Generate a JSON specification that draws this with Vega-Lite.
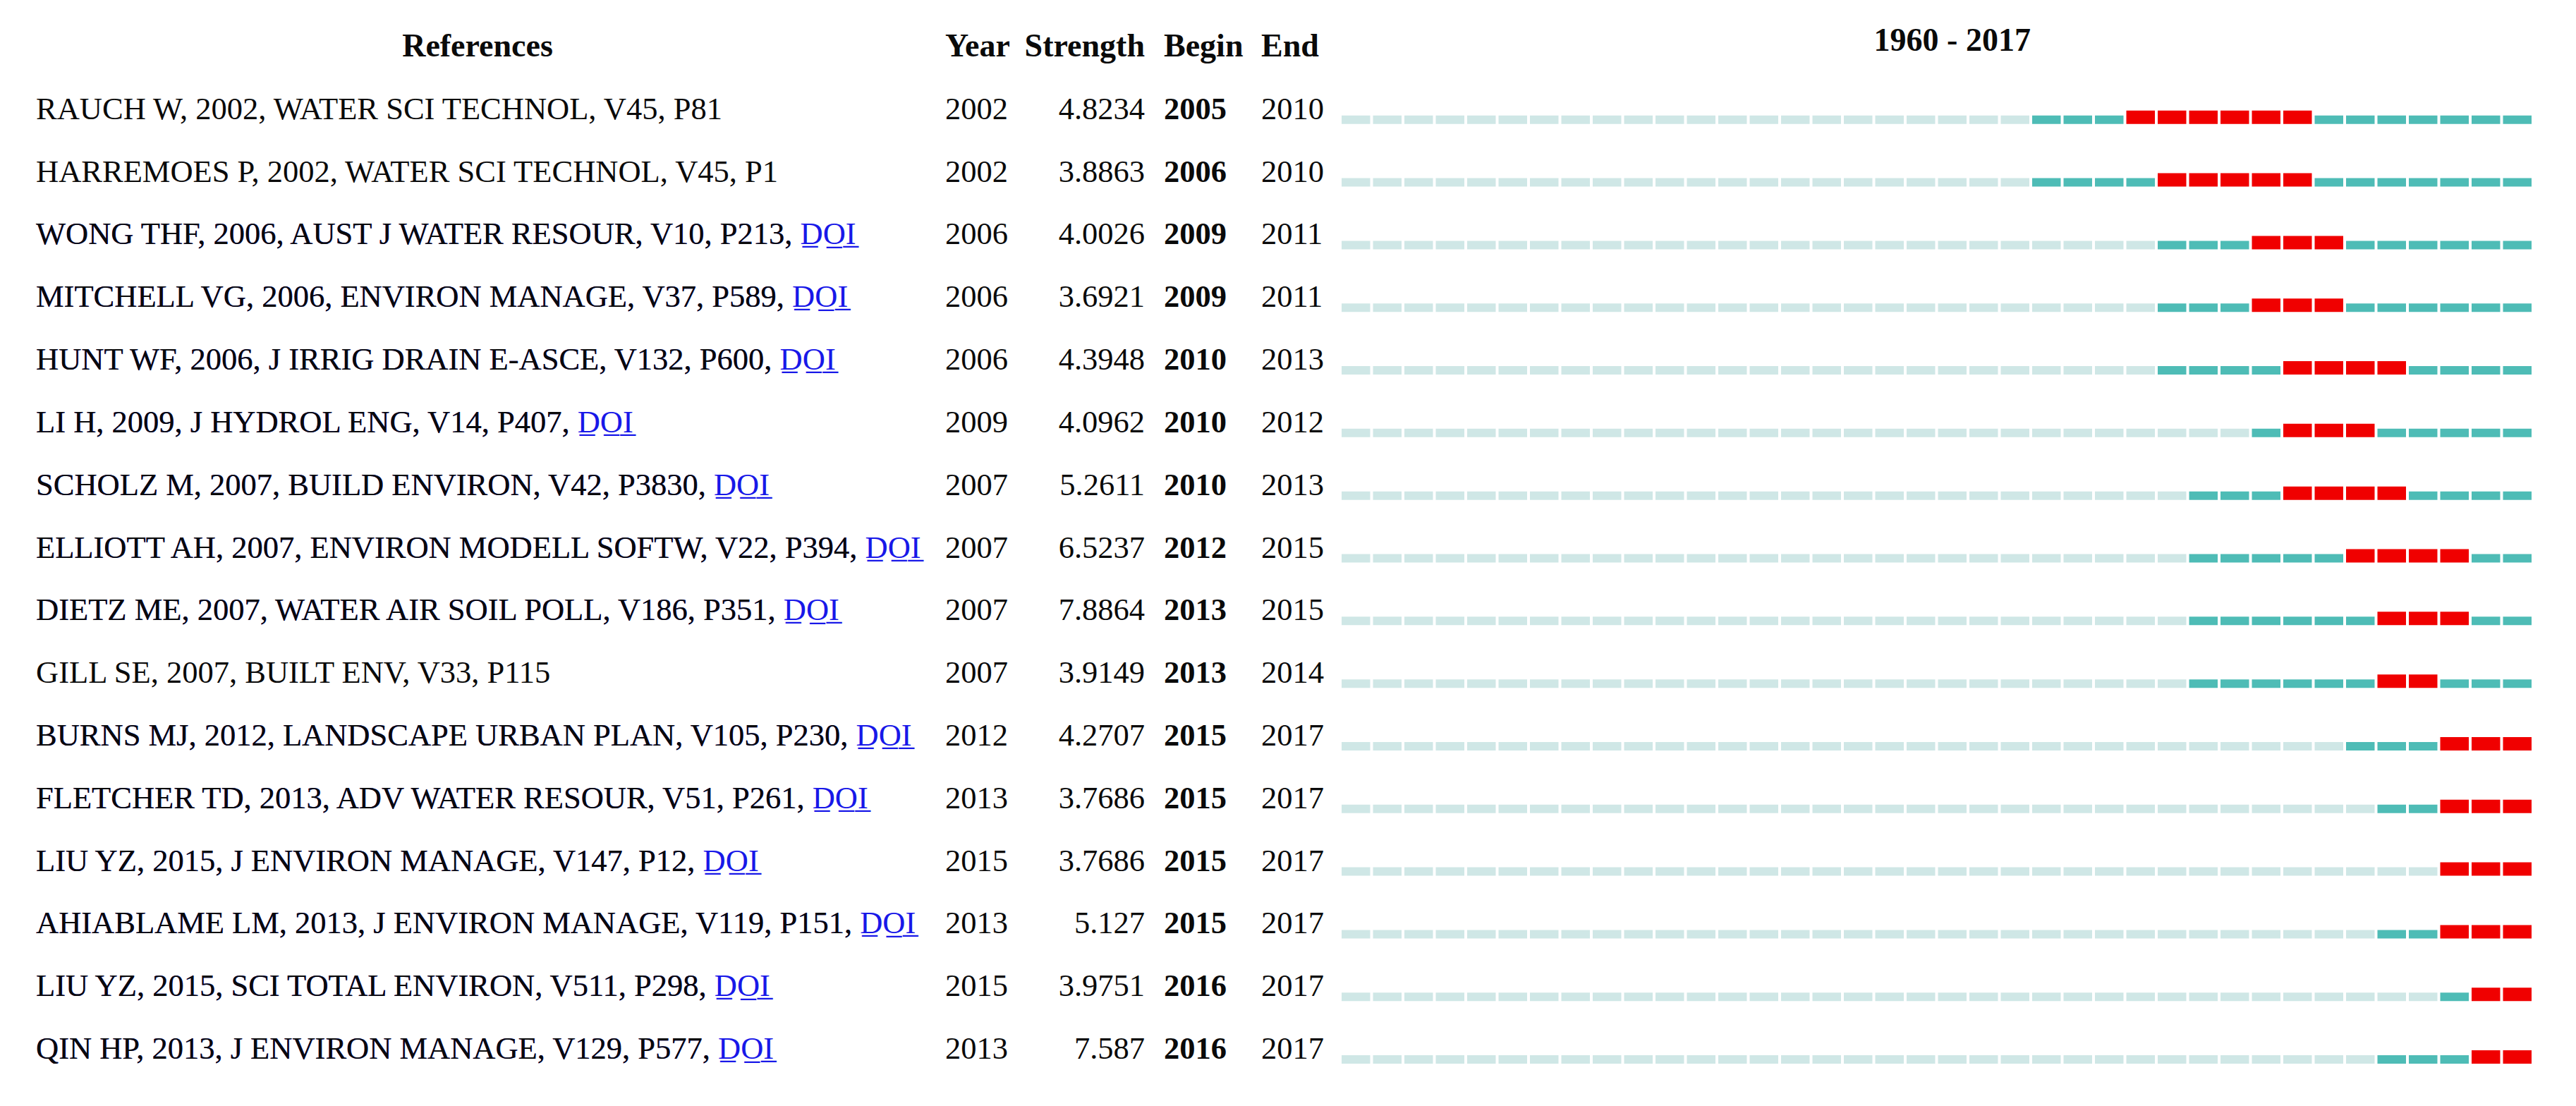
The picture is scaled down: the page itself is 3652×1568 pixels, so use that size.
{
"$schema": "https://vega.github.io/schema/vega-lite/v6.json",
"background": "white",
"padding": {"left": 0, "top": 22, "right": 63, "bottom": 36},
"spacing": 0,
"bounds": "flush",
"config": {"view": {"stroke": null}, "text": {"font": "Liberation Serif", "fontSize": 44.5, "baseline": "alphabetic", "color": "#0a0a0a"}},
"datasets": {
"refs": [
{"r":1,"pre":"RAUCH W, 2002, WATER SCI TECHNOL, V45, P81","full":null,"year":"2002","str":"4.8234","b":"2005","e":"2010"},
{"r":2,"pre":"HARREMOES P, 2002, WATER SCI TECHNOL, V45, P1","full":null,"year":"2002","str":"3.8863","b":"2006","e":"2010"},
{"r":3,"pre":"WONG THF, 2006, AUST J WATER RESOUR, V10, P213, ","full":"WONG THF, 2006, AUST J WATER RESOUR, V10, P213, D\u0332O\u0332I\u0332","year":"2006","str":"4.0026","b":"2009","e":"2011"},
{"r":4,"pre":"MITCHELL VG, 2006, ENVIRON MANAGE, V37, P589, ","full":"MITCHELL VG, 2006, ENVIRON MANAGE, V37, P589, D\u0332O\u0332I\u0332","year":"2006","str":"3.6921","b":"2009","e":"2011"},
{"r":5,"pre":"HUNT WF, 2006, J IRRIG DRAIN E-ASCE, V132, P600, ","full":"HUNT WF, 2006, J IRRIG DRAIN E-ASCE, V132, P600, D\u0332O\u0332I\u0332","year":"2006","str":"4.3948","b":"2010","e":"2013"},
{"r":6,"pre":"LI H, 2009, J HYDROL ENG, V14, P407, ","full":"LI H, 2009, J HYDROL ENG, V14, P407, D\u0332O\u0332I\u0332","year":"2009","str":"4.0962","b":"2010","e":"2012"},
{"r":7,"pre":"SCHOLZ M, 2007, BUILD ENVIRON, V42, P3830, ","full":"SCHOLZ M, 2007, BUILD ENVIRON, V42, P3830, D\u0332O\u0332I\u0332","year":"2007","str":"5.2611","b":"2010","e":"2013"},
{"r":8,"pre":"ELLIOTT AH, 2007, ENVIRON MODELL SOFTW, V22, P394, ","full":"ELLIOTT AH, 2007, ENVIRON MODELL SOFTW, V22, P394, D\u0332O\u0332I\u0332","year":"2007","str":"6.5237","b":"2012","e":"2015"},
{"r":9,"pre":"DIETZ ME, 2007, WATER AIR SOIL POLL, V186, P351, ","full":"DIETZ ME, 2007, WATER AIR SOIL POLL, V186, P351, D\u0332O\u0332I\u0332","year":"2007","str":"7.8864","b":"2013","e":"2015"},
{"r":10,"pre":"GILL SE, 2007, BUILT ENV, V33, P115","full":null,"year":"2007","str":"3.9149","b":"2013","e":"2014"},
{"r":11,"pre":"BURNS MJ, 2012, LANDSCAPE URBAN PLAN, V105, P230, ","full":"BURNS MJ, 2012, LANDSCAPE URBAN PLAN, V105, P230, D\u0332O\u0332I\u0332","year":"2012","str":"4.2707","b":"2015","e":"2017"},
{"r":12,"pre":"FLETCHER TD, 2013, ADV WATER RESOUR, V51, P261, ","full":"FLETCHER TD, 2013, ADV WATER RESOUR, V51, P261, D\u0332O\u0332I\u0332","year":"2013","str":"3.7686","b":"2015","e":"2017"},
{"r":13,"pre":"LIU YZ, 2015, J ENVIRON MANAGE, V147, P12, ","full":"LIU YZ, 2015, J ENVIRON MANAGE, V147, P12, D\u0332O\u0332I\u0332","year":"2015","str":"3.7686","b":"2015","e":"2017"},
{"r":14,"pre":"AHIABLAME LM, 2013, J ENVIRON MANAGE, V119, P151, ","full":"AHIABLAME LM, 2013, J ENVIRON MANAGE, V119, P151, D\u0332O\u0332I\u0332","year":"2013","str":"5.127","b":"2015","e":"2017"},
{"r":15,"pre":"LIU YZ, 2015, SCI TOTAL ENVIRON, V511, P298, ","full":"LIU YZ, 2015, SCI TOTAL ENVIRON, V511, P298, D\u0332O\u0332I\u0332","year":"2015","str":"3.9751","b":"2016","e":"2017"},
{"r":16,"pre":"QIN HP, 2013, J ENVIRON MANAGE, V129, P577, ","full":"QIN HP, 2013, J ENVIRON MANAGE, V129, P577, D\u0332O\u0332I\u0332","year":"2013","str":"7.587","b":"2016","e":"2017"}
],
"seg": [
{"r":1,"y":1980,"s":"L"},{"r":1,"y":1981,"s":"L"},{"r":1,"y":1982,"s":"L"},{"r":1,"y":1983,"s":"L"},{"r":1,"y":1984,"s":"L"},{"r":1,"y":1985,"s":"L"},{"r":1,"y":1986,"s":"L"},{"r":1,"y":1987,"s":"L"},{"r":1,"y":1988,"s":"L"},{"r":1,"y":1989,"s":"L"},{"r":1,"y":1990,"s":"L"},{"r":1,"y":1991,"s":"L"},{"r":1,"y":1992,"s":"L"},{"r":1,"y":1993,"s":"L"},{"r":1,"y":1994,"s":"L"},{"r":1,"y":1995,"s":"L"},{"r":1,"y":1996,"s":"L"},{"r":1,"y":1997,"s":"L"},{"r":1,"y":1998,"s":"L"},{"r":1,"y":1999,"s":"L"},{"r":1,"y":2000,"s":"L"},{"r":1,"y":2001,"s":"L"},{"r":1,"y":2002,"s":"T"},{"r":1,"y":2003,"s":"T"},{"r":1,"y":2004,"s":"T"},{"r":1,"y":2005,"s":"R"},{"r":1,"y":2006,"s":"R"},{"r":1,"y":2007,"s":"R"},{"r":1,"y":2008,"s":"R"},{"r":1,"y":2009,"s":"R"},{"r":1,"y":2010,"s":"R"},{"r":1,"y":2011,"s":"T"},{"r":1,"y":2012,"s":"T"},{"r":1,"y":2013,"s":"T"},{"r":1,"y":2014,"s":"T"},{"r":1,"y":2015,"s":"T"},{"r":1,"y":2016,"s":"T"},{"r":1,"y":2017,"s":"T"},
{"r":2,"y":1980,"s":"L"},{"r":2,"y":1981,"s":"L"},{"r":2,"y":1982,"s":"L"},{"r":2,"y":1983,"s":"L"},{"r":2,"y":1984,"s":"L"},{"r":2,"y":1985,"s":"L"},{"r":2,"y":1986,"s":"L"},{"r":2,"y":1987,"s":"L"},{"r":2,"y":1988,"s":"L"},{"r":2,"y":1989,"s":"L"},{"r":2,"y":1990,"s":"L"},{"r":2,"y":1991,"s":"L"},{"r":2,"y":1992,"s":"L"},{"r":2,"y":1993,"s":"L"},{"r":2,"y":1994,"s":"L"},{"r":2,"y":1995,"s":"L"},{"r":2,"y":1996,"s":"L"},{"r":2,"y":1997,"s":"L"},{"r":2,"y":1998,"s":"L"},{"r":2,"y":1999,"s":"L"},{"r":2,"y":2000,"s":"L"},{"r":2,"y":2001,"s":"L"},{"r":2,"y":2002,"s":"T"},{"r":2,"y":2003,"s":"T"},{"r":2,"y":2004,"s":"T"},{"r":2,"y":2005,"s":"T"},{"r":2,"y":2006,"s":"R"},{"r":2,"y":2007,"s":"R"},{"r":2,"y":2008,"s":"R"},{"r":2,"y":2009,"s":"R"},{"r":2,"y":2010,"s":"R"},{"r":2,"y":2011,"s":"T"},{"r":2,"y":2012,"s":"T"},{"r":2,"y":2013,"s":"T"},{"r":2,"y":2014,"s":"T"},{"r":2,"y":2015,"s":"T"},{"r":2,"y":2016,"s":"T"},{"r":2,"y":2017,"s":"T"},
{"r":3,"y":1980,"s":"L"},{"r":3,"y":1981,"s":"L"},{"r":3,"y":1982,"s":"L"},{"r":3,"y":1983,"s":"L"},{"r":3,"y":1984,"s":"L"},{"r":3,"y":1985,"s":"L"},{"r":3,"y":1986,"s":"L"},{"r":3,"y":1987,"s":"L"},{"r":3,"y":1988,"s":"L"},{"r":3,"y":1989,"s":"L"},{"r":3,"y":1990,"s":"L"},{"r":3,"y":1991,"s":"L"},{"r":3,"y":1992,"s":"L"},{"r":3,"y":1993,"s":"L"},{"r":3,"y":1994,"s":"L"},{"r":3,"y":1995,"s":"L"},{"r":3,"y":1996,"s":"L"},{"r":3,"y":1997,"s":"L"},{"r":3,"y":1998,"s":"L"},{"r":3,"y":1999,"s":"L"},{"r":3,"y":2000,"s":"L"},{"r":3,"y":2001,"s":"L"},{"r":3,"y":2002,"s":"L"},{"r":3,"y":2003,"s":"L"},{"r":3,"y":2004,"s":"L"},{"r":3,"y":2005,"s":"L"},{"r":3,"y":2006,"s":"T"},{"r":3,"y":2007,"s":"T"},{"r":3,"y":2008,"s":"T"},{"r":3,"y":2009,"s":"R"},{"r":3,"y":2010,"s":"R"},{"r":3,"y":2011,"s":"R"},{"r":3,"y":2012,"s":"T"},{"r":3,"y":2013,"s":"T"},{"r":3,"y":2014,"s":"T"},{"r":3,"y":2015,"s":"T"},{"r":3,"y":2016,"s":"T"},{"r":3,"y":2017,"s":"T"},
{"r":4,"y":1980,"s":"L"},{"r":4,"y":1981,"s":"L"},{"r":4,"y":1982,"s":"L"},{"r":4,"y":1983,"s":"L"},{"r":4,"y":1984,"s":"L"},{"r":4,"y":1985,"s":"L"},{"r":4,"y":1986,"s":"L"},{"r":4,"y":1987,"s":"L"},{"r":4,"y":1988,"s":"L"},{"r":4,"y":1989,"s":"L"},{"r":4,"y":1990,"s":"L"},{"r":4,"y":1991,"s":"L"},{"r":4,"y":1992,"s":"L"},{"r":4,"y":1993,"s":"L"},{"r":4,"y":1994,"s":"L"},{"r":4,"y":1995,"s":"L"},{"r":4,"y":1996,"s":"L"},{"r":4,"y":1997,"s":"L"},{"r":4,"y":1998,"s":"L"},{"r":4,"y":1999,"s":"L"},{"r":4,"y":2000,"s":"L"},{"r":4,"y":2001,"s":"L"},{"r":4,"y":2002,"s":"L"},{"r":4,"y":2003,"s":"L"},{"r":4,"y":2004,"s":"L"},{"r":4,"y":2005,"s":"L"},{"r":4,"y":2006,"s":"T"},{"r":4,"y":2007,"s":"T"},{"r":4,"y":2008,"s":"T"},{"r":4,"y":2009,"s":"R"},{"r":4,"y":2010,"s":"R"},{"r":4,"y":2011,"s":"R"},{"r":4,"y":2012,"s":"T"},{"r":4,"y":2013,"s":"T"},{"r":4,"y":2014,"s":"T"},{"r":4,"y":2015,"s":"T"},{"r":4,"y":2016,"s":"T"},{"r":4,"y":2017,"s":"T"},
{"r":5,"y":1980,"s":"L"},{"r":5,"y":1981,"s":"L"},{"r":5,"y":1982,"s":"L"},{"r":5,"y":1983,"s":"L"},{"r":5,"y":1984,"s":"L"},{"r":5,"y":1985,"s":"L"},{"r":5,"y":1986,"s":"L"},{"r":5,"y":1987,"s":"L"},{"r":5,"y":1988,"s":"L"},{"r":5,"y":1989,"s":"L"},{"r":5,"y":1990,"s":"L"},{"r":5,"y":1991,"s":"L"},{"r":5,"y":1992,"s":"L"},{"r":5,"y":1993,"s":"L"},{"r":5,"y":1994,"s":"L"},{"r":5,"y":1995,"s":"L"},{"r":5,"y":1996,"s":"L"},{"r":5,"y":1997,"s":"L"},{"r":5,"y":1998,"s":"L"},{"r":5,"y":1999,"s":"L"},{"r":5,"y":2000,"s":"L"},{"r":5,"y":2001,"s":"L"},{"r":5,"y":2002,"s":"L"},{"r":5,"y":2003,"s":"L"},{"r":5,"y":2004,"s":"L"},{"r":5,"y":2005,"s":"L"},{"r":5,"y":2006,"s":"T"},{"r":5,"y":2007,"s":"T"},{"r":5,"y":2008,"s":"T"},{"r":5,"y":2009,"s":"T"},{"r":5,"y":2010,"s":"R"},{"r":5,"y":2011,"s":"R"},{"r":5,"y":2012,"s":"R"},{"r":5,"y":2013,"s":"R"},{"r":5,"y":2014,"s":"T"},{"r":5,"y":2015,"s":"T"},{"r":5,"y":2016,"s":"T"},{"r":5,"y":2017,"s":"T"},
{"r":6,"y":1980,"s":"L"},{"r":6,"y":1981,"s":"L"},{"r":6,"y":1982,"s":"L"},{"r":6,"y":1983,"s":"L"},{"r":6,"y":1984,"s":"L"},{"r":6,"y":1985,"s":"L"},{"r":6,"y":1986,"s":"L"},{"r":6,"y":1987,"s":"L"},{"r":6,"y":1988,"s":"L"},{"r":6,"y":1989,"s":"L"},{"r":6,"y":1990,"s":"L"},{"r":6,"y":1991,"s":"L"},{"r":6,"y":1992,"s":"L"},{"r":6,"y":1993,"s":"L"},{"r":6,"y":1994,"s":"L"},{"r":6,"y":1995,"s":"L"},{"r":6,"y":1996,"s":"L"},{"r":6,"y":1997,"s":"L"},{"r":6,"y":1998,"s":"L"},{"r":6,"y":1999,"s":"L"},{"r":6,"y":2000,"s":"L"},{"r":6,"y":2001,"s":"L"},{"r":6,"y":2002,"s":"L"},{"r":6,"y":2003,"s":"L"},{"r":6,"y":2004,"s":"L"},{"r":6,"y":2005,"s":"L"},{"r":6,"y":2006,"s":"L"},{"r":6,"y":2007,"s":"L"},{"r":6,"y":2008,"s":"L"},{"r":6,"y":2009,"s":"T"},{"r":6,"y":2010,"s":"R"},{"r":6,"y":2011,"s":"R"},{"r":6,"y":2012,"s":"R"},{"r":6,"y":2013,"s":"T"},{"r":6,"y":2014,"s":"T"},{"r":6,"y":2015,"s":"T"},{"r":6,"y":2016,"s":"T"},{"r":6,"y":2017,"s":"T"},
{"r":7,"y":1980,"s":"L"},{"r":7,"y":1981,"s":"L"},{"r":7,"y":1982,"s":"L"},{"r":7,"y":1983,"s":"L"},{"r":7,"y":1984,"s":"L"},{"r":7,"y":1985,"s":"L"},{"r":7,"y":1986,"s":"L"},{"r":7,"y":1987,"s":"L"},{"r":7,"y":1988,"s":"L"},{"r":7,"y":1989,"s":"L"},{"r":7,"y":1990,"s":"L"},{"r":7,"y":1991,"s":"L"},{"r":7,"y":1992,"s":"L"},{"r":7,"y":1993,"s":"L"},{"r":7,"y":1994,"s":"L"},{"r":7,"y":1995,"s":"L"},{"r":7,"y":1996,"s":"L"},{"r":7,"y":1997,"s":"L"},{"r":7,"y":1998,"s":"L"},{"r":7,"y":1999,"s":"L"},{"r":7,"y":2000,"s":"L"},{"r":7,"y":2001,"s":"L"},{"r":7,"y":2002,"s":"L"},{"r":7,"y":2003,"s":"L"},{"r":7,"y":2004,"s":"L"},{"r":7,"y":2005,"s":"L"},{"r":7,"y":2006,"s":"L"},{"r":7,"y":2007,"s":"T"},{"r":7,"y":2008,"s":"T"},{"r":7,"y":2009,"s":"T"},{"r":7,"y":2010,"s":"R"},{"r":7,"y":2011,"s":"R"},{"r":7,"y":2012,"s":"R"},{"r":7,"y":2013,"s":"R"},{"r":7,"y":2014,"s":"T"},{"r":7,"y":2015,"s":"T"},{"r":7,"y":2016,"s":"T"},{"r":7,"y":2017,"s":"T"},
{"r":8,"y":1980,"s":"L"},{"r":8,"y":1981,"s":"L"},{"r":8,"y":1982,"s":"L"},{"r":8,"y":1983,"s":"L"},{"r":8,"y":1984,"s":"L"},{"r":8,"y":1985,"s":"L"},{"r":8,"y":1986,"s":"L"},{"r":8,"y":1987,"s":"L"},{"r":8,"y":1988,"s":"L"},{"r":8,"y":1989,"s":"L"},{"r":8,"y":1990,"s":"L"},{"r":8,"y":1991,"s":"L"},{"r":8,"y":1992,"s":"L"},{"r":8,"y":1993,"s":"L"},{"r":8,"y":1994,"s":"L"},{"r":8,"y":1995,"s":"L"},{"r":8,"y":1996,"s":"L"},{"r":8,"y":1997,"s":"L"},{"r":8,"y":1998,"s":"L"},{"r":8,"y":1999,"s":"L"},{"r":8,"y":2000,"s":"L"},{"r":8,"y":2001,"s":"L"},{"r":8,"y":2002,"s":"L"},{"r":8,"y":2003,"s":"L"},{"r":8,"y":2004,"s":"L"},{"r":8,"y":2005,"s":"L"},{"r":8,"y":2006,"s":"L"},{"r":8,"y":2007,"s":"T"},{"r":8,"y":2008,"s":"T"},{"r":8,"y":2009,"s":"T"},{"r":8,"y":2010,"s":"T"},{"r":8,"y":2011,"s":"T"},{"r":8,"y":2012,"s":"R"},{"r":8,"y":2013,"s":"R"},{"r":8,"y":2014,"s":"R"},{"r":8,"y":2015,"s":"R"},{"r":8,"y":2016,"s":"T"},{"r":8,"y":2017,"s":"T"},
{"r":9,"y":1980,"s":"L"},{"r":9,"y":1981,"s":"L"},{"r":9,"y":1982,"s":"L"},{"r":9,"y":1983,"s":"L"},{"r":9,"y":1984,"s":"L"},{"r":9,"y":1985,"s":"L"},{"r":9,"y":1986,"s":"L"},{"r":9,"y":1987,"s":"L"},{"r":9,"y":1988,"s":"L"},{"r":9,"y":1989,"s":"L"},{"r":9,"y":1990,"s":"L"},{"r":9,"y":1991,"s":"L"},{"r":9,"y":1992,"s":"L"},{"r":9,"y":1993,"s":"L"},{"r":9,"y":1994,"s":"L"},{"r":9,"y":1995,"s":"L"},{"r":9,"y":1996,"s":"L"},{"r":9,"y":1997,"s":"L"},{"r":9,"y":1998,"s":"L"},{"r":9,"y":1999,"s":"L"},{"r":9,"y":2000,"s":"L"},{"r":9,"y":2001,"s":"L"},{"r":9,"y":2002,"s":"L"},{"r":9,"y":2003,"s":"L"},{"r":9,"y":2004,"s":"L"},{"r":9,"y":2005,"s":"L"},{"r":9,"y":2006,"s":"L"},{"r":9,"y":2007,"s":"T"},{"r":9,"y":2008,"s":"T"},{"r":9,"y":2009,"s":"T"},{"r":9,"y":2010,"s":"T"},{"r":9,"y":2011,"s":"T"},{"r":9,"y":2012,"s":"T"},{"r":9,"y":2013,"s":"R"},{"r":9,"y":2014,"s":"R"},{"r":9,"y":2015,"s":"R"},{"r":9,"y":2016,"s":"T"},{"r":9,"y":2017,"s":"T"},
{"r":10,"y":1980,"s":"L"},{"r":10,"y":1981,"s":"L"},{"r":10,"y":1982,"s":"L"},{"r":10,"y":1983,"s":"L"},{"r":10,"y":1984,"s":"L"},{"r":10,"y":1985,"s":"L"},{"r":10,"y":1986,"s":"L"},{"r":10,"y":1987,"s":"L"},{"r":10,"y":1988,"s":"L"},{"r":10,"y":1989,"s":"L"},{"r":10,"y":1990,"s":"L"},{"r":10,"y":1991,"s":"L"},{"r":10,"y":1992,"s":"L"},{"r":10,"y":1993,"s":"L"},{"r":10,"y":1994,"s":"L"},{"r":10,"y":1995,"s":"L"},{"r":10,"y":1996,"s":"L"},{"r":10,"y":1997,"s":"L"},{"r":10,"y":1998,"s":"L"},{"r":10,"y":1999,"s":"L"},{"r":10,"y":2000,"s":"L"},{"r":10,"y":2001,"s":"L"},{"r":10,"y":2002,"s":"L"},{"r":10,"y":2003,"s":"L"},{"r":10,"y":2004,"s":"L"},{"r":10,"y":2005,"s":"L"},{"r":10,"y":2006,"s":"L"},{"r":10,"y":2007,"s":"T"},{"r":10,"y":2008,"s":"T"},{"r":10,"y":2009,"s":"T"},{"r":10,"y":2010,"s":"T"},{"r":10,"y":2011,"s":"T"},{"r":10,"y":2012,"s":"T"},{"r":10,"y":2013,"s":"R"},{"r":10,"y":2014,"s":"R"},{"r":10,"y":2015,"s":"T"},{"r":10,"y":2016,"s":"T"},{"r":10,"y":2017,"s":"T"},
{"r":11,"y":1980,"s":"L"},{"r":11,"y":1981,"s":"L"},{"r":11,"y":1982,"s":"L"},{"r":11,"y":1983,"s":"L"},{"r":11,"y":1984,"s":"L"},{"r":11,"y":1985,"s":"L"},{"r":11,"y":1986,"s":"L"},{"r":11,"y":1987,"s":"L"},{"r":11,"y":1988,"s":"L"},{"r":11,"y":1989,"s":"L"},{"r":11,"y":1990,"s":"L"},{"r":11,"y":1991,"s":"L"},{"r":11,"y":1992,"s":"L"},{"r":11,"y":1993,"s":"L"},{"r":11,"y":1994,"s":"L"},{"r":11,"y":1995,"s":"L"},{"r":11,"y":1996,"s":"L"},{"r":11,"y":1997,"s":"L"},{"r":11,"y":1998,"s":"L"},{"r":11,"y":1999,"s":"L"},{"r":11,"y":2000,"s":"L"},{"r":11,"y":2001,"s":"L"},{"r":11,"y":2002,"s":"L"},{"r":11,"y":2003,"s":"L"},{"r":11,"y":2004,"s":"L"},{"r":11,"y":2005,"s":"L"},{"r":11,"y":2006,"s":"L"},{"r":11,"y":2007,"s":"L"},{"r":11,"y":2008,"s":"L"},{"r":11,"y":2009,"s":"L"},{"r":11,"y":2010,"s":"L"},{"r":11,"y":2011,"s":"L"},{"r":11,"y":2012,"s":"T"},{"r":11,"y":2013,"s":"T"},{"r":11,"y":2014,"s":"T"},{"r":11,"y":2015,"s":"R"},{"r":11,"y":2016,"s":"R"},{"r":11,"y":2017,"s":"R"},
{"r":12,"y":1980,"s":"L"},{"r":12,"y":1981,"s":"L"},{"r":12,"y":1982,"s":"L"},{"r":12,"y":1983,"s":"L"},{"r":12,"y":1984,"s":"L"},{"r":12,"y":1985,"s":"L"},{"r":12,"y":1986,"s":"L"},{"r":12,"y":1987,"s":"L"},{"r":12,"y":1988,"s":"L"},{"r":12,"y":1989,"s":"L"},{"r":12,"y":1990,"s":"L"},{"r":12,"y":1991,"s":"L"},{"r":12,"y":1992,"s":"L"},{"r":12,"y":1993,"s":"L"},{"r":12,"y":1994,"s":"L"},{"r":12,"y":1995,"s":"L"},{"r":12,"y":1996,"s":"L"},{"r":12,"y":1997,"s":"L"},{"r":12,"y":1998,"s":"L"},{"r":12,"y":1999,"s":"L"},{"r":12,"y":2000,"s":"L"},{"r":12,"y":2001,"s":"L"},{"r":12,"y":2002,"s":"L"},{"r":12,"y":2003,"s":"L"},{"r":12,"y":2004,"s":"L"},{"r":12,"y":2005,"s":"L"},{"r":12,"y":2006,"s":"L"},{"r":12,"y":2007,"s":"L"},{"r":12,"y":2008,"s":"L"},{"r":12,"y":2009,"s":"L"},{"r":12,"y":2010,"s":"L"},{"r":12,"y":2011,"s":"L"},{"r":12,"y":2012,"s":"L"},{"r":12,"y":2013,"s":"T"},{"r":12,"y":2014,"s":"T"},{"r":12,"y":2015,"s":"R"},{"r":12,"y":2016,"s":"R"},{"r":12,"y":2017,"s":"R"},
{"r":13,"y":1980,"s":"L"},{"r":13,"y":1981,"s":"L"},{"r":13,"y":1982,"s":"L"},{"r":13,"y":1983,"s":"L"},{"r":13,"y":1984,"s":"L"},{"r":13,"y":1985,"s":"L"},{"r":13,"y":1986,"s":"L"},{"r":13,"y":1987,"s":"L"},{"r":13,"y":1988,"s":"L"},{"r":13,"y":1989,"s":"L"},{"r":13,"y":1990,"s":"L"},{"r":13,"y":1991,"s":"L"},{"r":13,"y":1992,"s":"L"},{"r":13,"y":1993,"s":"L"},{"r":13,"y":1994,"s":"L"},{"r":13,"y":1995,"s":"L"},{"r":13,"y":1996,"s":"L"},{"r":13,"y":1997,"s":"L"},{"r":13,"y":1998,"s":"L"},{"r":13,"y":1999,"s":"L"},{"r":13,"y":2000,"s":"L"},{"r":13,"y":2001,"s":"L"},{"r":13,"y":2002,"s":"L"},{"r":13,"y":2003,"s":"L"},{"r":13,"y":2004,"s":"L"},{"r":13,"y":2005,"s":"L"},{"r":13,"y":2006,"s":"L"},{"r":13,"y":2007,"s":"L"},{"r":13,"y":2008,"s":"L"},{"r":13,"y":2009,"s":"L"},{"r":13,"y":2010,"s":"L"},{"r":13,"y":2011,"s":"L"},{"r":13,"y":2012,"s":"L"},{"r":13,"y":2013,"s":"L"},{"r":13,"y":2014,"s":"L"},{"r":13,"y":2015,"s":"R"},{"r":13,"y":2016,"s":"R"},{"r":13,"y":2017,"s":"R"},
{"r":14,"y":1980,"s":"L"},{"r":14,"y":1981,"s":"L"},{"r":14,"y":1982,"s":"L"},{"r":14,"y":1983,"s":"L"},{"r":14,"y":1984,"s":"L"},{"r":14,"y":1985,"s":"L"},{"r":14,"y":1986,"s":"L"},{"r":14,"y":1987,"s":"L"},{"r":14,"y":1988,"s":"L"},{"r":14,"y":1989,"s":"L"},{"r":14,"y":1990,"s":"L"},{"r":14,"y":1991,"s":"L"},{"r":14,"y":1992,"s":"L"},{"r":14,"y":1993,"s":"L"},{"r":14,"y":1994,"s":"L"},{"r":14,"y":1995,"s":"L"},{"r":14,"y":1996,"s":"L"},{"r":14,"y":1997,"s":"L"},{"r":14,"y":1998,"s":"L"},{"r":14,"y":1999,"s":"L"},{"r":14,"y":2000,"s":"L"},{"r":14,"y":2001,"s":"L"},{"r":14,"y":2002,"s":"L"},{"r":14,"y":2003,"s":"L"},{"r":14,"y":2004,"s":"L"},{"r":14,"y":2005,"s":"L"},{"r":14,"y":2006,"s":"L"},{"r":14,"y":2007,"s":"L"},{"r":14,"y":2008,"s":"L"},{"r":14,"y":2009,"s":"L"},{"r":14,"y":2010,"s":"L"},{"r":14,"y":2011,"s":"L"},{"r":14,"y":2012,"s":"L"},{"r":14,"y":2013,"s":"T"},{"r":14,"y":2014,"s":"T"},{"r":14,"y":2015,"s":"R"},{"r":14,"y":2016,"s":"R"},{"r":14,"y":2017,"s":"R"},
{"r":15,"y":1980,"s":"L"},{"r":15,"y":1981,"s":"L"},{"r":15,"y":1982,"s":"L"},{"r":15,"y":1983,"s":"L"},{"r":15,"y":1984,"s":"L"},{"r":15,"y":1985,"s":"L"},{"r":15,"y":1986,"s":"L"},{"r":15,"y":1987,"s":"L"},{"r":15,"y":1988,"s":"L"},{"r":15,"y":1989,"s":"L"},{"r":15,"y":1990,"s":"L"},{"r":15,"y":1991,"s":"L"},{"r":15,"y":1992,"s":"L"},{"r":15,"y":1993,"s":"L"},{"r":15,"y":1994,"s":"L"},{"r":15,"y":1995,"s":"L"},{"r":15,"y":1996,"s":"L"},{"r":15,"y":1997,"s":"L"},{"r":15,"y":1998,"s":"L"},{"r":15,"y":1999,"s":"L"},{"r":15,"y":2000,"s":"L"},{"r":15,"y":2001,"s":"L"},{"r":15,"y":2002,"s":"L"},{"r":15,"y":2003,"s":"L"},{"r":15,"y":2004,"s":"L"},{"r":15,"y":2005,"s":"L"},{"r":15,"y":2006,"s":"L"},{"r":15,"y":2007,"s":"L"},{"r":15,"y":2008,"s":"L"},{"r":15,"y":2009,"s":"L"},{"r":15,"y":2010,"s":"L"},{"r":15,"y":2011,"s":"L"},{"r":15,"y":2012,"s":"L"},{"r":15,"y":2013,"s":"L"},{"r":15,"y":2014,"s":"L"},{"r":15,"y":2015,"s":"T"},{"r":15,"y":2016,"s":"R"},{"r":15,"y":2017,"s":"R"},
{"r":16,"y":1980,"s":"L"},{"r":16,"y":1981,"s":"L"},{"r":16,"y":1982,"s":"L"},{"r":16,"y":1983,"s":"L"},{"r":16,"y":1984,"s":"L"},{"r":16,"y":1985,"s":"L"},{"r":16,"y":1986,"s":"L"},{"r":16,"y":1987,"s":"L"},{"r":16,"y":1988,"s":"L"},{"r":16,"y":1989,"s":"L"},{"r":16,"y":1990,"s":"L"},{"r":16,"y":1991,"s":"L"},{"r":16,"y":1992,"s":"L"},{"r":16,"y":1993,"s":"L"},{"r":16,"y":1994,"s":"L"},{"r":16,"y":1995,"s":"L"},{"r":16,"y":1996,"s":"L"},{"r":16,"y":1997,"s":"L"},{"r":16,"y":1998,"s":"L"},{"r":16,"y":1999,"s":"L"},{"r":16,"y":2000,"s":"L"},{"r":16,"y":2001,"s":"L"},{"r":16,"y":2002,"s":"L"},{"r":16,"y":2003,"s":"L"},{"r":16,"y":2004,"s":"L"},{"r":16,"y":2005,"s":"L"},{"r":16,"y":2006,"s":"L"},{"r":16,"y":2007,"s":"L"},{"r":16,"y":2008,"s":"L"},{"r":16,"y":2009,"s":"L"},{"r":16,"y":2010,"s":"L"},{"r":16,"y":2011,"s":"L"},{"r":16,"y":2012,"s":"L"},{"r":16,"y":2013,"s":"T"},{"r":16,"y":2014,"s":"T"},{"r":16,"y":2015,"s":"T"},{"r":16,"y":2016,"s":"R"},{"r":16,"y":2017,"s":"R"}
]
},
"hconcat": [
{
"width": 1340, "height": 1510,
"layer": [
{"data": {"name": "refs"}, "transform": [{"filter": "datum.full != null"}],
 "mark": {"type": "text", "align": "left", "color": "#1818e8", "yOffset": 13.5},
 "encoding": {"y": {"field": "r", "type": "ordinal", "scale": {"domain": [0,1,2,3,4,5,6,7,8,9,10,11,12,13,14,15,16], "paddingInner": 0, "paddingOuter": 0}, "axis": null}, "x": {"value": 51}, "text": {"field": "full"}}},
{"data": {"name": "refs"},
 "mark": {"type": "text", "align": "left", "yOffset": 13.5},
 "encoding": {"y": {"field": "r", "type": "ordinal", "axis": null}, "x": {"value": 51}, "text": {"field": "pre"}}},
{"data": {"values": [{}]},
 "mark": {"type": "text", "align": "center", "fontWeight": "bold", "fontSize": 46, "yOffset": 13.5},
 "encoding": {"y": {"datum": 0, "type": "ordinal"}, "x": {"value": 677}, "text": {"value": "References"}}}
]
},
{
"width": 110, "height": 1510,
"layer": [
{"data": {"name": "refs"},
 "mark": {"type": "text", "align": "left", "yOffset": 13.5},
 "encoding": {"y": {"field": "r", "type": "ordinal", "scale": {"domain": [0,1,2,3,4,5,6,7,8,9,10,11,12,13,14,15,16], "paddingInner": 0, "paddingOuter": 0}, "axis": null}, "x": {"value": 0}, "text": {"field": "year"}}},
{"data": {"values": [{}]},
 "mark": {"type": "text", "align": "left", "fontWeight": "bold", "fontSize": 46, "yOffset": 13.5},
 "encoding": {"y": {"datum": 0, "type": "ordinal"}, "x": {"value": 0}, "text": {"value": "Year"}}}
]
},
{
"width": 180, "height": 1510,
"layer": [
{"data": {"name": "refs"},
 "mark": {"type": "text", "align": "right", "yOffset": 13.5},
 "encoding": {"y": {"field": "r", "type": "ordinal", "scale": {"domain": [0,1,2,3,4,5,6,7,8,9,10,11,12,13,14,15,16], "paddingInner": 0, "paddingOuter": 0}, "axis": null}, "x": {"value": 173}, "text": {"field": "str"}}},
{"data": {"values": [{}]},
 "mark": {"type": "text", "align": "right", "fontWeight": "bold", "fontSize": 46, "yOffset": 13.5},
 "encoding": {"y": {"datum": 0, "type": "ordinal"}, "x": {"value": 173}, "text": {"value": "Strength"}}}
]
},
{
"width": 150, "height": 1510,
"layer": [
{"data": {"name": "refs"},
 "mark": {"type": "text", "align": "left", "fontWeight": "bold", "yOffset": 13.5},
 "encoding": {"y": {"field": "r", "type": "ordinal", "scale": {"domain": [0,1,2,3,4,5,6,7,8,9,10,11,12,13,14,15,16], "paddingInner": 0, "paddingOuter": 0}, "axis": null}, "x": {"value": 20}, "text": {"field": "b"}}},
{"data": {"values": [{}]},
 "mark": {"type": "text", "align": "left", "fontWeight": "bold", "fontSize": 46, "yOffset": 13.5},
 "encoding": {"y": {"datum": 0, "type": "ordinal"}, "x": {"value": 20}, "text": {"value": "Begin"}}}
]
},
{
"width": 122, "height": 1510,
"layer": [
{"data": {"name": "refs"},
 "mark": {"type": "text", "align": "left", "yOffset": 13.5},
 "encoding": {"y": {"field": "r", "type": "ordinal", "scale": {"domain": [0,1,2,3,4,5,6,7,8,9,10,11,12,13,14,15,16], "paddingInner": 0, "paddingOuter": 0}, "axis": null}, "x": {"value": 8}, "text": {"field": "e"}}},
{"data": {"values": [{}]},
 "mark": {"type": "text", "align": "left", "fontWeight": "bold", "fontSize": 46, "yOffset": 13.5},
 "encoding": {"y": {"datum": 0, "type": "ordinal"}, "x": {"value": 8}, "text": {"value": "End"}}}
]
},
{
"width": 1687, "height": 1510,
"layer": [
{"data": {"name": "seg"}, "transform": [{"filter": "datum.s != 'R'"}],
 "mark": {"type": "bar", "height": 12, "yOffset": 14.5},
 "encoding": {
  "x": {"field": "y", "type": "ordinal", "scale": {"paddingInner": 0.09, "paddingOuter": 0}, "axis": null},
  "y": {"field": "r", "type": "ordinal", "scale": {"domain": [0,1,2,3,4,5,6,7,8,9,10,11,12,13,14,15,16], "paddingInner": 0, "paddingOuter": 0}, "axis": null},
  "color": {"field": "s", "type": "nominal", "scale": {"domain": ["L","T","R"], "range": ["#cfe7e6","#4ebcb6","#f00000"]}, "legend": null}}},
{"data": {"name": "seg"}, "transform": [{"filter": "datum.s == 'R'"}],
 "mark": {"type": "bar", "height": 19, "yOffset": 11},
 "encoding": {
  "x": {"field": "y", "type": "ordinal"},
  "y": {"field": "r", "type": "ordinal"},
  "color": {"field": "s", "type": "nominal", "legend": null}}},
{"data": {"values": [{}]},
 "mark": {"type": "text", "align": "center", "fontWeight": "bold", "fontSize": 46, "yOffset": 5.5},
 "encoding": {"y": {"datum": 0, "type": "ordinal"}, "x": {"datum": 1999, "type": "ordinal"}, "text": {"value": "1960 - 2017"}}}
]
}
]
}
